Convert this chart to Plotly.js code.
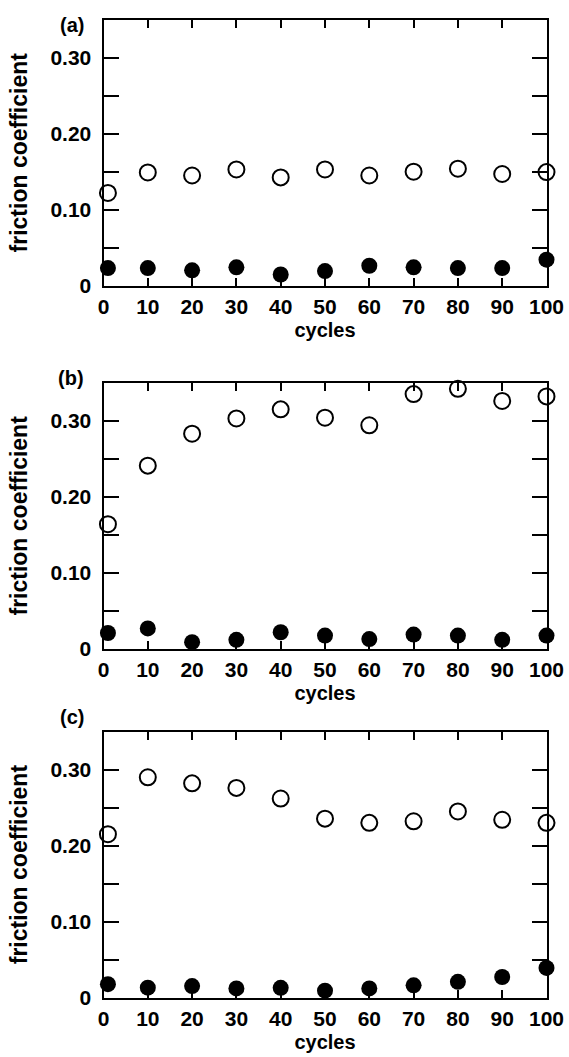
<!DOCTYPE html>
<html>
<head>
<meta charset="utf-8">
<script src="https://cdn.plot.ly/plotly-3.0.1.min.js"></script>
<style>html,body{margin:0;padding:0;background:#fff;}#plot{width:569px;height:1057px;}</style>
</head>
<body>
<div id="plot"></div>
<script>
// ---- data ----
const cycles = [1, 10, 20, 30, 40, 50, 60, 70, 80, 90, 100];
const xTickVals = [0, 10, 20, 30, 40, 50, 60, 70, 80, 90, 100];
const xTickText = ["0", "10", "20", "30", "40", "50", "60", "70", "80", "90", "100"];
const yTickVals = [0, 0.05, 0.10, 0.15, 0.20, 0.25, 0.30];
const yTickText = ["0", "", "0.10", "", "0.20", "", "0.30"];
const panelLabels = ["(a)", "(b)", "(c)"];

const aOpen   = [0.122, 0.149, 0.145, 0.153, 0.1425, 0.153, 0.145, 0.150, 0.154, 0.147, 0.1495];
const aFilled = [0.023, 0.023, 0.020, 0.024, 0.0145, 0.019, 0.026, 0.024, 0.023, 0.023, 0.034];
const bOpen   = [0.164, 0.241, 0.283, 0.303, 0.315, 0.304, 0.294, 0.335, 0.342, 0.326, 0.332];
const bFilled = [0.021, 0.027, 0.009, 0.012, 0.022, 0.0176, 0.013, 0.019, 0.0176, 0.012, 0.0176];
const cOpen   = [0.215, 0.290, 0.282, 0.276, 0.262, 0.2355, 0.230, 0.232, 0.245, 0.234, 0.230];
const cFilled = [0.0175, 0.013, 0.015, 0.012, 0.0127, 0.009, 0.012, 0.016, 0.0206, 0.027, 0.039];

const openSeries = [aOpen, bOpen, cOpen];
const filledSeries = [aFilled, bFilled, cFilled];

// ---- layout geometry (pixels) ----
const W = 569, H = 1057;
const xLeftPx = 103.5, xRightPx = 546.5;
const panelsPx = [[20, 285.5], [382.7, 649], [731.7, 997.5]]; // top, bottom
const fontFam = "'Liberation Sans', Arial, sans-serif";

const traces = [];
const layout = {
  width: W, height: H,
  margin: {l: 0, r: 0, t: 0, b: 0},
  paper_bgcolor: '#fff', plot_bgcolor: '#fff',
  showlegend: false,
  annotations: []
};

for (let i = 0; i < 3; i++) {
  const sfx = i === 0 ? '' : String(i + 1);
  const xa = 'x' + sfx, ya = 'y' + sfx;
  traces.push({
    x: cycles, y: openSeries[i], xaxis: xa, yaxis: ya, type: 'scatter', mode: 'markers',
    cliponaxis: false,
    marker: {symbol: 'circle-open', size: 16, color: '#000', line: {width: 2, color: '#000'}}
  });
  traces.push({
    x: cycles, y: filledSeries[i], xaxis: xa, yaxis: ya, type: 'scatter', mode: 'markers',
    cliponaxis: false,
    marker: {symbol: 'circle', size: 16, color: '#000', line: {width: 0}}
  });
  const [top, bot] = panelsPx[i];
  layout['xaxis' + sfx] = {
    domain: [xLeftPx / W, xRightPx / W],
    anchor: ya,
    range: [0, 100],
    tickmode: 'array', tickvals: xTickVals, ticktext: xTickText,
    ticks: 'inside', ticklen: 8, tickwidth: 2, tickcolor: '#000',
    showline: true, linewidth: 2, linecolor: '#000', mirror: 'allticks',
    showgrid: false, zeroline: false,
    ticklabelstandoff: 1,
    tickfont: {family: fontFam, size: 21, color: '#000', weight: 'bold'},
    title: {text: 'cycles', standoff: 6, font: {family: fontFam, size: 20, color: '#000', weight: 'bold'}}
  };
  layout['yaxis' + sfx] = {
    domain: [1 - bot / H, 1 - top / H],
    anchor: xa,
    range: [0, 0.35],
    tickmode: 'array', tickvals: yTickVals, ticktext: yTickText,
    ticks: 'inside', ticklen: 15, tickwidth: 2, tickcolor: '#000',
    showline: true, linewidth: 2, linecolor: '#000', mirror: 'allticks',
    showgrid: false, zeroline: false,
    ticklabelstandoff: 6,
    tickfont: {family: fontFam, size: 21, color: '#000', weight: 'bold'},
    title: {text: 'friction coefficient', standoff: 16, font: {family: fontFam, size: 23, color: '#000', weight: 'bold'}}
  };
  const labY = i === 0 ? 25 : (i === 1 ? 378 : 717);
  layout.annotations.push({
    text: panelLabels[i], xref: 'paper', yref: 'paper',
    x: 86 / W, y: 1 - labY / H, xanchor: 'right', yanchor: 'middle', showarrow: false,
    font: {family: fontFam, size: 20, color: '#000', weight: 'bold'}
  });
}

Plotly.newPlot('plot', traces, layout, {staticPlot: true, displayModeBar: false});
</script>
</body>
</html>
